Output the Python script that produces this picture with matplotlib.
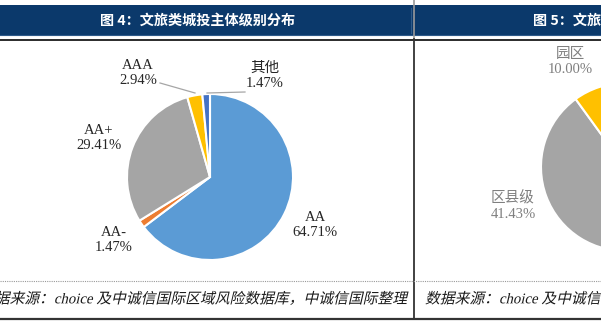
import matplotlib
matplotlib.use("Agg")
import matplotlib.pyplot as plt
from matplotlib.lines import Line2D
from matplotlib.patches import Rectangle, PathPatch
from matplotlib.textpath import TextPath
from matplotlib.font_manager import FontProperties
from matplotlib.transforms import Affine2D, IdentityTransform

# 图4 data: rating distribution (clockwise from 12 o'clock)
left_labels = ["AA", "AA-", "AA+", "AAA", "其他"]
left_values = [64.71, 1.47, 29.41, 2.94, 1.47]
left_colors = ["#5B9BD5", "#ED7D31", "#A5A5A5", "#FFC000", "#4472C4"]

# 图5 data: only part visible in the crop (first share is off-canvas)
right_labels = ["", "区县级", "园区"]
right_values = [48.57, 41.43, 10.00]
right_colors = ["#5B9BD5", "#A5A5A5", "#FFC000"]

title_left = "图 4：文旅类城投主体级别分布"
title_right = "图 5：文旅类城投主体行政级别"
source = "数据来源：choice 及中诚信国际区域风险数据库，中诚信国际整理"

W, H = 601, 324
fig = plt.figure(figsize=(W / 100, H / 100), dpi=100)
fig.patch.set_facecolor("white")

serif = ["Liberation Serif", "Noto Sans CJK SC"]
cjk = ["Noto Sans CJK SC", "DejaVu Sans"]


def fx(x):
    return x / W


def fy(y):
    return 1 - y / H


def hline(y, x0, x1, **kw):
    fig.add_artist(Line2D([fx(x0), fx(x1)], [fy(y), fy(y)], transform=fig.transFigure, **kw))


def vline(x, y0, y1, **kw):
    fig.add_artist(Line2D([fx(x), fx(x)], [fy(y0), fy(y1)], transform=fig.transFigure, **kw))


def slanted_text(x, y, s, size_px, ha="left", color="#1a1a1a"):
    # fake italic for the CJK source line (the CJK font has no italic face)
    path = TextPath((0, 0), s, size=size_px, prop=FontProperties(family=serif))
    width = path.get_extents().width
    x0 = x - width if ha == "right" else x
    base = H - (y + 0.36 * size_px)
    tr = Affine2D().skew_deg(13, 0).translate(x0, base) + IdentityTransform()
    fig.add_artist(PathPatch(path, transform=tr, facecolor=color, edgecolor="none"))


# header band
fig.add_artist(Rectangle((0, fy(36)), 1, (36 - 5) / H, transform=fig.transFigure,
                         facecolor="#0B396B", edgecolor="none"))
hline(34.5, 0, W, color="#2E5A8A", lw=0.8)
hline(39.5, 0, W, color="#1a1a1a", lw=1.3)
vline(414, 0, 38, color="#9a9a9a", lw=1.2)
vline(411.5, 8, 33, color="#2E5A8A", lw=0.8)
vline(414, 39, 319, color="#333333", lw=1.3)

fig.text(fx(198), fy(21), title_left, color="white", fontsize=10.2, fontweight="bold",
         family=cjk, ha="center", va="center")
fig.text(fx(631), fy(21), title_right, color="white", fontsize=10.2, fontweight="bold",
         family=cjk, ha="center", va="center")

# footer
hline(281, 0, W, color="#9a9a9a", lw=0.8, ls=(0, (1, 1)))
hline(319, 0, W, color="#333333", lw=1.6)
slanted_text(406, 298, source, 14.8, ha="right")
slanted_text(425, 298, source, 14.8, ha="left")


def pie_axes(cx, cy, r):
    ax = fig.add_axes([fx(cx - r), fy(cy + r), 2 * r / W, 2 * r / H])
    ax.set_xlim(-1, 1)
    ax.set_ylim(-1, 1)
    ax.axis("off")
    return ax


# left pie
r1 = 83
ax1 = pie_axes(210, 177, r1)
ax1.pie(left_values, colors=left_colors, startangle=90, counterclock=False, radius=1,
        wedgeprops=dict(edgecolor="white", linewidth=1.5))
ax1.set_xlim(-1, 1)
ax1.set_ylim(-1, 1)

left_pos = [(315, 225), (114, 240), (99, 138), (138, 73), (265, 76)]
for lab, val, (px, py) in zip(left_labels, left_values, left_pos):
    ax1.text((px - 210) / r1, -(py - 177) / r1, f"{lab}\n{val:.2f}%", family=serif,
             fontsize=10.5, color="#262626", ha="center", va="center", linespacing=1.15)

# leader lines for small slices
for (x0, y0), (x1, y1) in [((160, 83), (195, 93)), ((207, 93), (245, 92))]:
    ax1.plot([(x0 - 210) / r1, (x1 - 210) / r1], [-(y0 - 177) / r1, -(y1 - 177) / r1],
             color="#A6A6A6", lw=0.9, clip_on=False)

# right pie (mostly cropped)
r2 = 84
ax2 = pie_axes(625, 167, r2)
ax2.pie(right_values, colors=right_colors, startangle=90, counterclock=False, radius=1,
        wedgeprops=dict(edgecolor="white", linewidth=1.5))
ax2.set_xlim(-1, 1)
ax2.set_ylim(-1, 1)

right_pos = [None, (513, 206), (570, 62)]
for lab, val, pos in zip(right_labels, right_values, right_pos):
    if pos is None:
        continue
    px, py = pos
    ax2.text((px - 625) / r2, -(py - 167) / r2, f"{lab}\n{val:.2f}%", family=serif,
             fontsize=10.5, color="#7F7F7F", ha="center", va="center", linespacing=1.2)

fig.savefig("out.png", dpi=100)
